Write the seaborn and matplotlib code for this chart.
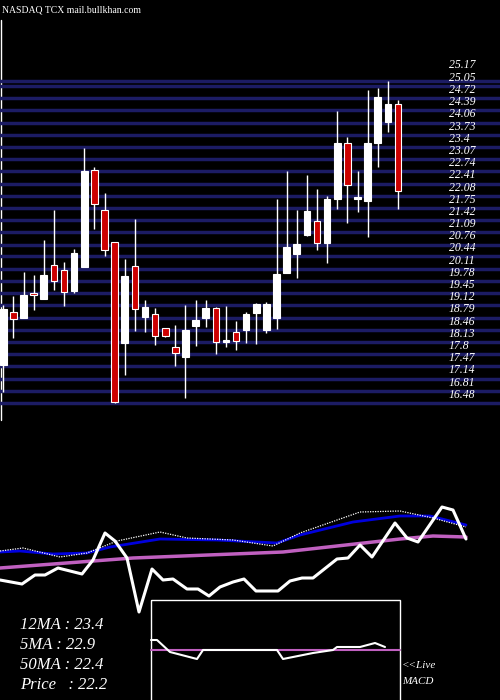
import numpy as np
import pandas as pd
import seaborn as sns
import matplotlib.pyplot as plt

# candle data (open, close, high, low)
opens = [17.50, 18.95, 18.77, 19.45, 19.29, 20.21, 20.07, 19.50, 20.15, 22.77,
         21.69, 20.82, 18.09, 20.18, 18.80, 18.88, 18.51, 17.99, 17.71, 18.55,
         18.79, 19.05, 18.12, 18.39, 18.44, 18.91, 18.44, 18.79, 19.99, 20.50,
         21.01, 21.39, 20.80, 21.99, 23.50, 21.99, 21.93, 23.50, 24.07, 24.55]
closes = [19.02, 18.75, 19.41, 19.40, 19.95, 19.78, 19.48, 20.54, 22.75, 21.85,
          20.61, 16.51, 19.92, 19.03, 19.08, 18.30, 18.28, 17.83, 18.46, 18.73,
          19.05, 18.14, 18.18, 18.16, 18.89, 19.16, 19.16, 19.97, 20.70, 20.78,
          21.67, 20.80, 22.00, 23.51, 22.37, 22.03, 23.51, 24.75, 24.56, 22.20]
highs = [19.14, 19.38, 20.03, 19.95, 20.89, 21.70, 20.30, 20.65, 23.37, 22.85,
         22.15, 20.82, 20.37, 21.45, 19.27, 19.05, 18.51, 18.60, 19.14, 19.27,
         19.27, 19.07, 19.11, 18.69, 18.95, 19.18, 19.20, 22.00, 22.75, 21.70,
         22.65, 22.27, 22.08, 24.36, 23.67, 22.75, 24.94, 25.00, 25.18, 24.67]
lows = [16.78, 18.24, 18.77, 19.00, 19.29, 19.54, 19.09, 19.45, 20.15, 21.18,
        20.46, 16.48, 17.23, 18.42, 18.39, 18.04, 18.26, 17.49, 16.62, 18.01,
        18.52, 17.80, 17.99, 17.90, 18.10, 18.07, 18.37, 18.48, 19.99, 19.85,
        20.98, 20.62, 20.26, 21.72, 21.34, 21.63, 20.96, 22.87, 23.80, 21.72]

levels = [25.17, 25.05, 24.72, 24.39, 24.06, 23.73, 23.4, 23.07, 22.74, 22.41,
          22.08, 21.75, 21.42, 21.09, 20.76, 20.44, 20.11, 19.78, 19.45, 19.12,
          18.79, 18.46, 18.13, 17.8, 17.47, 17.14, 16.81, 16.48]

# indicator panel (x in px, y in panel level units)
price_x = [0, 22, 35, 45, 58, 82, 93, 105, 115, 127, 139, 152, 163, 173, 187, 198,
           209, 220, 233, 244, 256, 278, 290, 302, 313, 337, 348, 360, 372, 395,
           407, 418, 442, 453, 466]
price_y = [580, 584, 575, 575, 568, 574, 560, 533, 541, 558, 612, 569, 580, 579,
           589, 589, 596, 587, 582, 579, 591, 591, 581, 578, 578, 559, 558, 545,
           557, 523, 538, 542, 507, 510, 539]
ma12_x = [0, 20, 53, 87, 110, 160, 217, 277, 300, 353, 400, 430, 466]
ma12_y = [552, 551, 554, 553, 547, 539, 540, 543, 535, 522, 516, 516, 525]
ma5_x = [0, 23, 60, 87, 117, 160, 187, 233, 273, 300, 360, 400, 433, 466]
ma5_y = [551, 548, 557, 553, 541, 532, 538, 540, 546, 533, 512, 511, 518, 527]
ma50_x = [0, 133, 283, 400, 433, 466]
ma50_y = [568, 558, 552, 539, 536, 537]
macd_x = [151, 157, 170, 197, 203, 277, 283, 313, 333, 337, 360, 375, 385]
macd_y = [640, 640, 652, 659, 650, 650, 659, 653, 650, 647, 647, 643, 647]
macd_signal = 650

ma_texts = ["12MA : 23.4", "5MA : 22.9", "50MA : 22.4", "Price   : 22.2"]

sns.set_style("dark")
plt.rcParams['font.family'] = ['Liberation Serif', 'DejaVu Serif']

W, H = 500, 700
fig = plt.figure(figsize=(5, 7), dpi=100, facecolor="black")

# full-figure overlay for indicators
ov = fig.add_axes([0, 0, 1, 1], facecolor="black")
ov.set_xlim(0, W)
ov.set_ylim(H, 0)
ov.axis("off")
sns.lineplot(x=ma50_x, y=ma50_y, color="#c060c0", lw=2.5, ax=ov, sort=False)
sns.lineplot(x=ma12_x, y=ma12_y, color="#0000dd", lw=2, ax=ov, sort=False)
sns.lineplot(x=ma5_x, y=ma5_y, color="white", lw=0.9, ls=(0, (1, 1)), ax=ov, sort=False)
sns.lineplot(x=price_x, y=price_y, color="white", lw=2.2, ax=ov, sort=False)
ov.add_patch(plt.Rectangle((151, 600), 249, 102, fill=False, ec="white", lw=1))
ov.axhline(macd_signal, xmin=151 / W, xmax=400 / W, color="#c060c0", lw=1.5)
sns.lineplot(x=macd_x, y=macd_y, color="white", lw=1.5, ax=ov, sort=False)
for i, t in enumerate(ma_texts):
    ov.text(20, 625 + i * 20, t, color="white", fontsize=12, style="italic", va="center")
ov.text(402, 666, "<<Live", color="white", fontsize=8, style="italic", va="center")
ov.text(402, 681, "MACD", color="white", fontsize=8, style="italic", va="center")
ov.text(2, 10, "NASDAQ TCX mail.bullkhan.com", color="white", fontsize=7, va="center")
ov.plot([1, 1], [20, 420], color="white", lw=1)

# price panel: y 60..410 px
ax = fig.add_axes([0, (H - 410) / H, 1, 350 / H])
ax.patch.set_alpha(0)
ax.axis("off")
ax.set_ylim(16.29, 25.75)
ax.set_xlim(-0.326, 49.08)
for lv in levels:
    ax.axhline(lv, color="#1c1c64", lw=2.5, zorder=1)
    dy = 0.45 if lv == levels[0] else 0.22
    ax.text(44.0, lv + dy, f"{lv:g}", color="white", fontsize=8.5, style="italic",
            va="center", zorder=3)

idx = np.arange(len(opens))
df = pd.DataFrame({"o": opens, "c": closes, "h": highs, "l": lows}, index=idx)
up = df.c >= df.o
ax.vlines(idx, df.l, df.h, color="white", lw=1, zorder=2)
ax.bar(idx, (df.c - df.o).abs().clip(lower=0.05), bottom=df[["o", "c"]].min(axis=1),
       width=0.65, color=np.where(up, "white", "#cc0000"), edgecolor="white", lw=0.8, zorder=2)

fig.savefig("out.png", dpi=100, facecolor="black")
